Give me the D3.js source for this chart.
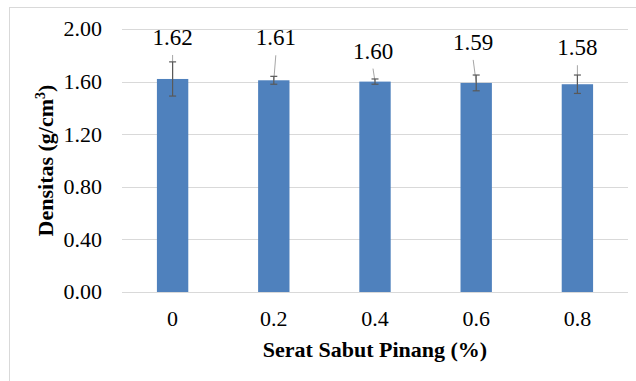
<!DOCTYPE html>
<html><head><meta charset="utf-8">
<script src="https://cdn.jsdelivr.net/npm/d3@7"></script>
<style>body{margin:0;background:#fff}svg{display:block}</style>
</head><body>
<script>
const categories = ["0", "0.2", "0.4", "0.6", "0.8"];
const values = [1.62, 1.61, 1.60, 1.59, 1.58];
const errors = [0.13, 0.03, 0.02, 0.06, 0.07];
const labelOffsets = [[0, -34], [2, -35], [-2, -23], [-3, -33], [0, -29]]; // label nudge from bar top in px (dx, dy)
const yTicks = [0, 0.4, 0.8, 1.2, 1.6, 2.0];

const W = 636, H = 381;
const margin = {left: 122, right: 8, top: 29, bottom: 89};
const svg = d3.select("body").append("svg").attr("width", W).attr("height", H);

svg.append("rect").attr("x", 9.5).attr("y", 7.5).attr("width", 640).attr("height", 400)
  .attr("fill", "none").attr("stroke", "#d9d9d9").attr("stroke-width", 1);

const x = d3.scaleBand().domain(categories).range([margin.left, W - margin.right]).paddingInner(0.69).paddingOuter(0.345);
const y = d3.scaleLinear().domain([0, 2]).range([H - margin.bottom, margin.top]);

const font = "Liberation Serif, Times New Roman, serif";

function label(px, py, str, opts = {}) {
  const g = svg.append("g").attr("transform", `translate(${px},${py})${opts.rotate ? " rotate(" + opts.rotate + ")" : ""}`);
  const t = g.append("text").attr("text-anchor", opts.anchor || "middle")
    .style("font-family", font).attr("font-size", opts.size || 22)
    .attr("font-weight", opts.bold ? "bold" : "normal").attr("fill", "#000");
  if (opts.dy) t.attr("dy", opts.dy);
  if (str !== null) t.text(str);
  return t;
}

// gridlines
svg.append("g").selectAll("line").data(yTicks).join("line")
  .attr("x1", margin.left).attr("x2", W - margin.right)
  .attr("y1", d => Math.round(y(d)) + 0.5).attr("y2", d => Math.round(y(d)) + 0.5)
  .attr("stroke", "#d9d9d9").attr("stroke-width", 1);

// y tick labels
yTicks.forEach(d => label(102, y(d), d3.format(".2f")(d), {anchor: "end", dy: "0.34em"}));

// bars
svg.append("g").selectAll("rect").data(values).join("rect")
  .attr("x", (d, i) => x(categories[i])).attr("width", x.bandwidth())
  .attr("y", d => y(d)).attr("height", d => y(0) - y(d))
  .attr("fill", "#4f81bd");

// data labels with leader lines
values.forEach((v, i) => {
  const cx = x(categories[i]) + x.bandwidth() / 2;
  const lx = cx + labelOffsets[i][0];
  const ly = y(v) + labelOffsets[i][1];
  svg.append("line").attr("x1", lx).attr("y1", ly + 10).attr("x2", cx).attr("y2", y(v))
    .attr("stroke", "#a6a6a6").attr("stroke-width", 1);
  label(lx, ly, d3.format(".2f")(v), {size: 23});
});

// error bars
const eb = svg.append("g").attr("stroke", "#595959").attr("stroke-width", 1.2);
values.forEach((v, i) => {
  const cx = x(categories[i]) + x.bandwidth() / 2;
  const t = y(v + errors[i]), b = y(v - errors[i]);
  eb.append("line").attr("x1", cx).attr("x2", cx).attr("y1", t).attr("y2", b);
  eb.append("line").attr("x1", cx - 3.5).attr("x2", cx + 3.5).attr("y1", t).attr("y2", t);
  eb.append("line").attr("x1", cx - 3.5).attr("x2", cx + 3.5).attr("y1", b).attr("y2", b);
});

// x tick labels
categories.forEach(c => label(x(c) + x.bandwidth() / 2, 326, c));

// x title
label((margin.left + W - margin.right) / 2, 356.5, "Serat Sabut Pinang (%)", {bold: true});

// y title
const yt = label(53, (margin.top + H - margin.bottom) / 2, null, {bold: true, rotate: -90});
yt.append("tspan").text("Densitas (g/cm");
yt.append("tspan").attr("dy", -8).attr("font-size", 14).text("3");
yt.append("tspan").attr("dy", 8).text(")");
</script>
</body></html>
